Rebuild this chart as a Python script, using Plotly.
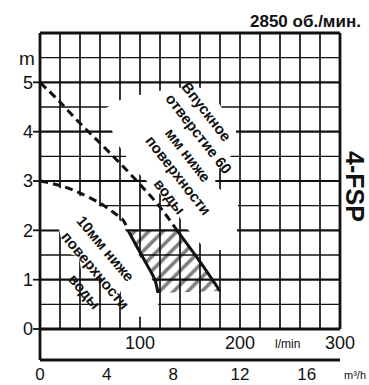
import plotly.graph_objects as go

# ---- pump characteristic 4-FSP, 2850 rpm -------------------------------
# flow Q in l/min, head H in m
upper_dash_q = [0, 20, 40, 60, 80, 100, 120, 137]
upper_dash_h = [5.0, 4.6, 4.17, 3.77, 3.36, 2.93, 2.47, 2.0]
upper_solid_q = [137, 158, 180]
upper_solid_h = [2.0, 1.42, 0.77]

lower_dash_q = [0, 18, 35, 60, 73, 83, 88]
lower_dash_h = [3.0, 2.92, 2.8, 2.55, 2.37, 2.21, 2.0]
lower_solid_q = [88, 95, 107, 115, 118]
lower_solid_h = [2.0, 1.74, 1.30, 0.99, 0.73]

head_ticks = [0, 1, 2, 3, 4, 5]
flow_m3h_ticks = [0, 4, 8, 12, 16]
flow_lpm_labels = [100, 200, 300]

# ---- geometry ----------------------------------------------------------
W, H = 369, 385
PX_PER_M = 296 / 6.0
Q_MAX, H_MAX = 300, 6.0
BAND = 31 / PX_PER_M          # strip under the zero line for the l/min scale
PAD_Q, PAD_H = 2, 2 / PX_PER_M

def px2q(px):
    return px - 40

def py2h(py):
    return (329 - py) / PX_PER_M

INK = "#111111"
FONT = "Liberation Sans, Arial, sans-serif"

fig = go.Figure()

shapes = []
# grid
for q in range(20, Q_MAX, 20):
    shapes.append(dict(type="line", x0=q, x1=q, y0=0, y1=H_MAX,
                       line=dict(color=INK, width=1.7), layer="below"))
for k in range(1, 12):
    h = k * 0.5
    shapes.append(dict(type="line", x0=0, x1=Q_MAX, y0=h, y1=h,
                       line=dict(color=INK, width=2.2 if k % 2 == 0 else 1.4),
                       layer="below"))

# white zones behind the captions
upper_zone = [(66, 4.48), (80, 4.64), (110, 4.80), (140, 4.89), (160, 4.89),
              (175, 4.69), (182, 4.48), (196, 4.07), (196, 3.77), (190, 3.47),
              (176, 3.18), (175, 2.92), (198, 2.51), (197, 1.97), (184, 1.60),
              (166, 1.60), (150, 1.97), (148, 2.01), (132, 2.49), (112, 2.90),
              (95, 3.22), (85, 3.53), (75, 3.83), (70, 4.16)]
lower_edge = [(q - 1.5, h - 0.04) for q, h in
              zip(lower_dash_q + lower_solid_q[1:], lower_dash_h + lower_solid_h[1:])]
lower_zone = ([(0.8, 2.9)] + lower_edge[1:] +
              [(118, 0.6), (119, 0.02), (81, 0.02), (81, 0.78), (76, 0.55),
               (62, 0.9), (59, 1.15), (41, 1.2), (39, 1.47), (30, 1.52),
               (22, 1.75), (19, 2.02), (0.8, 2.02)])

def poly_path(pts):
    return "M " + " L ".join(f"{x},{y}" for x, y in pts) + " Z"

for zone in (upper_zone, lower_zone):
    shapes.append(dict(type="path", path=poly_path(zone), fillcolor="white",
                       line=dict(width=0), layer="below"))

# short stub of the 100 l/min line left above the zero line
shapes.append(dict(type="line", x0=100, x1=100, y0=0, y1=0.25,
                   line=dict(color=INK, width=1.7), layer="below"))

# frame
frame_w = 2.8
shapes += [
    dict(type="line", x0=0, x1=Q_MAX, y0=H_MAX, y1=H_MAX, line=dict(color=INK, width=frame_w)),
    dict(type="line", x0=Q_MAX, x1=Q_MAX, y0=0, y1=H_MAX, line=dict(color=INK, width=frame_w)),
    dict(type="line", x0=0, x1=0, y0=-BAND, y1=H_MAX, line=dict(color=INK, width=frame_w)),
    dict(type="line", x0=0, x1=Q_MAX, y0=0, y1=0, line=dict(color=INK, width=frame_w)),
    dict(type="line", x0=0, x1=Q_MAX, y0=-BAND, y1=-BAND, line=dict(color=INK, width=frame_w)),
]
# head ticks on the left
plot_left_px = 40 - 2
plot_w = W - plot_left_px - 27
for h in head_ticks:
    shapes.append(dict(type="line", xref="paper", yref="y",
                       x0=(33 - plot_left_px) / plot_w, x1=(40 - plot_left_px) / plot_w,
                       y0=h, y1=h, line=dict(color=INK, width=1.8)))

# hatched operating area
hatch_q = lower_solid_q + [upper_solid_q[-1]] + upper_solid_q[::-1]
hatch_h = lower_solid_h + [upper_solid_h[-1]] + upper_solid_h[::-1]
fig.add_trace(go.Scatter(x=hatch_q, y=hatch_h, mode="none", fill="toself",
                         fillcolor="rgba(0,0,0,0)",
                         fillpattern=dict(shape="/", size=10, solidity=0.36,
                                          fgcolor="#000000", bgcolor="rgba(255,255,255,0)"),
                         hoverinfo="skip", showlegend=False))

# curves
for q, h, dash in [(upper_dash_q, upper_dash_h, "8px,5px"),
                   (lower_dash_q, lower_dash_h, "8px,5px"),
                   (upper_solid_q, upper_solid_h, "solid"),
                   (lower_solid_q, lower_solid_h, "solid")]:
    fig.add_trace(go.Scatter(x=q, y=h, mode="lines", line_shape="spline",
                             line=dict(color=INK, width=3, dash=dash),
                             hoverinfo="skip", showlegend=False))

annotations = []

def note(text, x, y, size, bold=False, angle=0, xref="x", yref="y", xanchor="center", yanchor="middle"):
    annotations.append(dict(text=text, x=x, y=y, xref=xref, yref=yref, showarrow=False,
                            textangle=angle, xanchor=xanchor, yanchor=yanchor,
                            font=dict(family=FONT, size=size, color=INK,
                                      weight="bold" if bold else "normal")))

plot_top_px = 33 - 2
plot_h = H - plot_top_px - 23
def pxp(px):
    return (px - plot_left_px) / plot_w
def pyp(py):
    return (plot_top_px + plot_h - py) / plot_h

for v in flow_lpm_labels:
    note(str(v), v, py2h(343), 18)
note("l/min", px2q(287), py2h(344), 12)
note("m", pxp(27), pyp(59), 19, xref="paper", yref="paper")

upper_lines = [("Впускное", 207, 111), ("отверстие 60", 199, 133), ("мм ниже", 188, 154),
               ("поверхности", 179, 175), ("воды", 170, 196)]
for t, px, py in upper_lines:
    note(t, px2q(px), py2h(py), 15, bold=True, angle=52)
lower_lines = [("10мм ниже", 106, 248), ("поверхности", 96, 270), ("воды", 85, 291)]
for t, px, py in lower_lines:
    note(t, px2q(px), py2h(py), 15, bold=True, angle=50)

note("2850 об./мин.", pxp(363), pyp(22), 17, bold=True, xref="paper", yref="paper", xanchor="right")
note("4-FSP", pxp(355), pyp(186), 25, bold=True, angle=90, xref="paper", yref="paper")
note("m³/h", pxp(355), pyp(375), 11, xref="paper", yref="paper")

fig.update_layout(
    width=W, height=H,
    margin=dict(l=plot_left_px, r=27, t=plot_top_px, b=23, autoexpand=False),
    paper_bgcolor="white", plot_bgcolor="white",
    shapes=shapes, annotations=annotations,
    xaxis=dict(range=[-PAD_Q, Q_MAX + PAD_Q], showgrid=False, zeroline=False, showline=False,
               automargin=False,
               tickvals=[v * 1000 / 60 for v in flow_m3h_ticks],
               ticktext=[str(v) for v in flow_m3h_ticks], ticks="",
               tickfont=dict(family=FONT, size=17, color=INK), ticklabelstandoff=0),
    yaxis=dict(range=[-BAND - PAD_H, H_MAX + PAD_H], showgrid=False, zeroline=False, showline=False,
               automargin=False,
               tickvals=head_ticks, ticks="", ticklabelstandoff=4,
               tickfont=dict(family=FONT, size=18, color=INK)),
)

fig.write_html("out.html")
